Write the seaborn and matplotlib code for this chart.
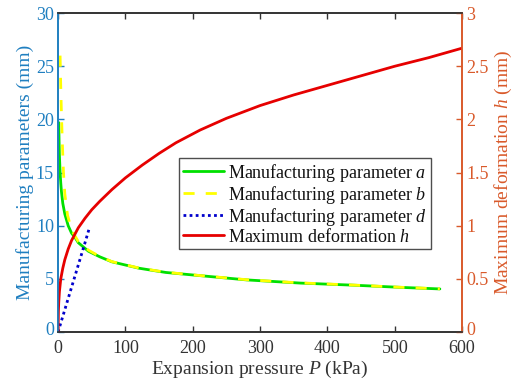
import matplotlib
matplotlib.use("Agg")
import matplotlib.pyplot as plt
import matplotlib.transforms as mtrans
import seaborn as sns
import pandas as pd

# ---- data ----
P_a = [1, 1.5, 2, 3, 4, 5, 7, 10, 15, 20, 25, 30, 45, 62, 80, 120, 160, 211, 280, 360, 440, 508, 567]
a_vals = [19.7, 17.9, 16.6, 15.0, 14.0, 13.2, 12.1, 11.1, 10.0, 9.3, 8.9, 8.4, 7.6, 7.07, 6.6, 6.0, 5.6, 5.3, 4.9, 4.6, 4.4, 4.2, 4.05]

P_b = [3, 4, 5, 6.5, 8, 10, 14, 20, 30, 45, 62, 80, 120, 160, 211, 280, 360, 440, 508, 567]
b_vals = [26.0, 23.0, 20.5, 17.5, 15.0, 13.0, 11.0, 9.6, 8.5, 7.7, 7.1, 6.62, 6.02, 5.62, 5.31, 4.92, 4.62, 4.41, 4.21, 4.06]

P_d = [0, 10, 20, 30, 40, 46.5]
d_vals = [0.0, 2.1, 4.2, 6.3, 8.4, 9.8]

P_h = [0, 0.5, 1, 2, 4, 7, 10, 15, 20, 30, 40, 50, 62, 80, 100, 125, 150, 175, 211,
       250, 300, 350, 400, 450, 500, 550, 600]
h_vals = [0.0, 0.2, 0.28, 0.38, 0.5, 0.6, 0.68, 0.78, 0.86, 0.98, 1.07, 1.15, 1.23, 1.34, 1.45,
          1.57, 1.68, 1.78, 1.90, 2.01, 2.13, 2.23, 2.32, 2.41, 2.50, 2.58, 2.67]

x_ticks = [0, 100, 200, 300, 400, 500, 600]
yl_ticks = [0, 5, 10, 15, 20, 25, 30]
yr_ticks = [0, 0.5, 1, 1.5, 2, 2.5, 3]
yr_labels = ["0", "0.5", "1", "1.5", "2", "2.5", "3"]

BLUE = "#1f7fc0"
ORANGE = "#d95a2b"
GRAY = "#333333"

sns.set_theme(style="white")
plt.rcParams["font.family"] = ["Liberation Serif", "DejaVu Serif"]
plt.rcParams["mathtext.fontset"] = "custom"
plt.rcParams["mathtext.rm"] = "Liberation Serif"
plt.rcParams["mathtext.it"] = "Liberation Serif:italic"

fig = plt.figure(figsize=(5.14, 3.85), dpi=100)
ax = fig.add_axes([0.113, 0.1377, 0.786, 0.8283])
ax2 = ax.twinx()

df_a = pd.DataFrame({"P": P_a, "v": a_vals})
df_b = pd.DataFrame({"P": P_b, "v": b_vals})
df_d = pd.DataFrame({"P": P_d, "v": d_vals})
df_h = pd.DataFrame({"P": P_h, "v": h_vals})

sns.lineplot(data=df_a, x="P", y="v", ax=ax, color="#00e000", lw=2, label="Manufacturing parameter $a$", legend=False)
sns.lineplot(data=df_b, x="P", y="v", ax=ax, color="#ffff00", lw=2, ls=(0, (4, 4)), label="Manufacturing parameter $b$", legend=False)
sns.lineplot(data=df_d, x="P", y="v", ax=ax, color="#0000cc", lw=2, ls=(0, (1, 1.2)), label="Manufacturing parameter $d$", legend=False)
sns.lineplot(data=df_h, x="P", y="v", ax=ax2, color="#e60000", lw=2, label="Maximum deformation $h$", legend=False)

ax.set_xlim(0, 600)
ax.set_ylim(0, 30)
ax2.set_ylim(0, 3)
ax.set_xticks(x_ticks)
ax.set_xticklabels([str(t) for t in x_ticks])
ax.set_yticks(yl_ticks)
ax.set_yticklabels([str(t) for t in yl_ticks])
ax2.set_yticks(yr_ticks)
ax2.set_yticklabels(yr_labels)

fs = 13
lfs = 14
ax.set_xlabel("Expansion pressure $P$ (kPa)", fontsize=lfs, color=GRAY, labelpad=1)
ax.set_ylabel("Manufacturing parameters (mm)", fontsize=lfs, color=BLUE, labelpad=1)
ax2.set_ylabel("Maximum deformation $h$ (mm)", fontsize=lfs, color=ORANGE, labelpad=3)

ax.tick_params(axis="x", direction="in", length=4, colors=GRAY, labelsize=fs, top=True, bottom=True, pad=6, width=1)
ax.tick_params(axis="y", direction="in", length=4, colors=BLUE, labelsize=fs, left=True, right=False, pad=3, width=1)
ax2.tick_params(axis="y", direction="in", length=4, colors=ORANGE, labelsize=fs, right=True, pad=3, width=1)

# nudge the bottom tick labels of both y axes up slightly so they clear the x labels
for a_, side in ((ax, "label1"), (ax2, "label2")):
    lab = getattr(a_.yaxis.get_major_ticks()[0], side)
    lab.set_transform(lab.get_transform() + mtrans.ScaledTranslation(0, 3 / 100, fig.dpi_scale_trans))

for a_ in (ax, ax2):
    for s in a_.spines.values():
        s.set_linewidth(1.2)
ax.spines["top"].set_color(GRAY)
ax.spines["bottom"].set_color(GRAY)
ax2.spines["top"].set_color(GRAY)
ax2.spines["bottom"].set_color(GRAY)
ax.spines["left"].set_color(BLUE)
ax2.spines["left"].set_color(BLUE)
ax.spines["right"].set_color(ORANGE)
ax2.spines["right"].set_color(ORANGE)

h1, l1 = ax.get_legend_handles_labels()
h2, l2 = ax2.get_legend_handles_labels()
leg = ax2.legend(h1 + h2, l1 + l2, loc="upper left", bbox_to_anchor=(0.30, 0.545),
                 fontsize=fs, frameon=True, fancybox=False, edgecolor="#222222",
                 handlelength=2.3, handletextpad=0.2, borderpad=0.2, labelspacing=0.0,
                 borderaxespad=0)
leg.get_frame().set_linewidth(1.0)
for t in leg.get_texts():
    t.set_color("#111111")

fig.savefig("out.png", dpi=100)
